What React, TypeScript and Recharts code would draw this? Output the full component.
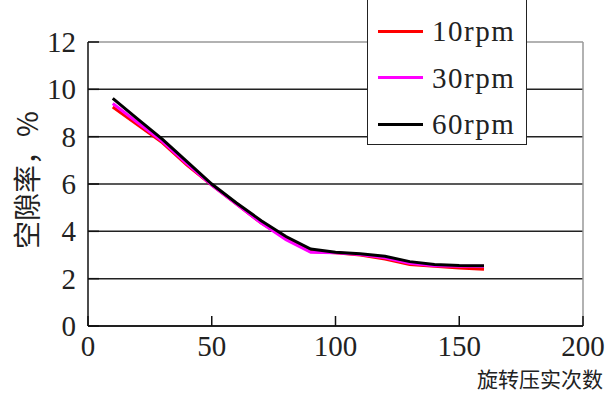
import { LineChart, Line, XAxis, YAxis, CartesianGrid, Legend } from 'recharts';

const passes = [10, 20, 30, 40, 50, 60, 70, 80, 90, 100, 110, 120, 130, 140, 150, 160];
const rpm10 = [9.25, 8.5, 7.75, 6.8, 5.95, 5.15, 4.35, 3.7, 3.15, 3.1, 3.0, 2.83, 2.6, 2.52, 2.45, 2.4];
const rpm30 = [9.4, 8.6, 7.8, 6.85, 5.95, 5.15, 4.35, 3.65, 3.12, 3.1, 3.02, 2.88, 2.65, 2.55, 2.52, 2.52];
const rpm60 = [9.62, 8.75, 7.9, 6.95, 6.0, 5.2, 4.45, 3.78, 3.25, 3.12, 3.05, 2.95, 2.72, 2.6, 2.56, 2.55];

const xTicks = [0, 50, 100, 150, 200];
const yTicks = [0, 2, 4, 6, 8, 10, 12];

const seriesNames = ['10rpm', '30rpm', '60rpm'];
const seriesColors = ['#ff0000', '#ff00ff', '#000000'];

const data = passes.map((x, i) => ({ x, r10: rpm10[i], r30: rpm30[i], r60: rpm60[i] }));

// own tick text so the serif font really sticks
function XTick(p: any) {
  return (
    <text x={p.x} y={p.y} dy={20} textAnchor="middle" fontFamily="Liberation Serif" fontSize={29} fill="#222">
      {p.payload.value}
    </text>
  );
}

function YTick(p: any) {
  return (
    <text x={p.x} y={p.y} dy={10} textAnchor="end" fontFamily="Liberation Serif" fontSize={29} fill="#222">
      {p.payload.value}
    </text>
  );
}

function GridH(props: any) {
  const top = props.y1 <= props.y + 0.5;
  return <line x1={props.x1} x2={props.x2} y1={props.y1} y2={props.y2} stroke={top ? '#999' : '#222'} strokeWidth={1.5} />;
}

function GridV(props: any) {
  if (props.x1 < props.x + props.width - 0.5) return <g />;
  return <line x1={props.x1} x2={props.x2} y1={props.y1} y2={props.y2} stroke="#999" strokeWidth={1.5} />;
}

function LegendBox() {
  return (
    <div style={{ width: 160, height: 147, boxSizing: 'border-box', border: '1px solid #222', background: '#fff', position: 'relative' }}>
      {seriesNames.map((name, i) => (
        <div key={name} style={{ position: 'absolute', left: 10, top: 14 + i * 46.5, height: 36, display: 'flex', alignItems: 'center' }}>
          <div style={{ width: 45, height: 3, background: seriesColors[i] }} />
          <span style={{ marginLeft: 9, fontFamily: 'Liberation Serif', fontSize: 29, letterSpacing: 1.5, color: '#222', lineHeight: '36px' }}>{name}</span>
        </div>
      ))}
    </div>
  );
}

export default function App() {
  return (
    <div style={{ position: 'absolute', left: 0, top: 0, width: 606, height: 394, background: '#fff' }}>
      <LineChart width={606} height={394} data={data} margin={{ top: 42, right: 23, left: 0, bottom: 0 }}>
        <CartesianGrid horizontal={GridH} vertical={GridV} />
        <XAxis
          dataKey="x"
          type="number"
          domain={[0, 200]}
          ticks={xTicks}
          height={68}
          stroke="#111"
          strokeWidth={1.5}
          tickSize={-10}
          tickMargin={20}
          tick={XTick}
          label={{
            content: () => (
              <text x={603} y={378} textAnchor="end" dominantBaseline="central" fontFamily="Noto Sans CJK SC" fontSize={21} fill="#222">
                旋转压实次数
              </text>
            ),
          }}
        />
        <YAxis
          type="number"
          domain={[0, 12]}
          ticks={yTicks}
          width={88}
          stroke="#111"
          strokeWidth={1.5}
          tickSize={-11}
          tickMargin={23}
          tick={YTick}
          label={{
            content: () => (
              <text x={26} y={180} transform="rotate(-90 26 180)" textAnchor="middle" dominantBaseline="central" fontFamily="Noto Sans CJK SC" fontSize={28} fill="#222">
                空隙率，%
              </text>
            ),
          }}
        />
        <Legend
          layout="vertical"
          align="center"
          verticalAlign="middle"
          content={() => <LegendBox />}
          wrapperStyle={{ left: 367, top: -2, width: 160, height: 147 }}
        />
        <Line dataKey="r10" name={seriesNames[0]} stroke={seriesColors[0]} strokeWidth={3} dot={false} isAnimationActive={false} />
        <Line dataKey="r30" name={seriesNames[1]} stroke={seriesColors[1]} strokeWidth={3} dot={false} isAnimationActive={false} />
        <Line dataKey="r60" name={seriesNames[2]} stroke={seriesColors[2]} strokeWidth={3} dot={false} isAnimationActive={false} />
      </LineChart>
    </div>
  );
}
